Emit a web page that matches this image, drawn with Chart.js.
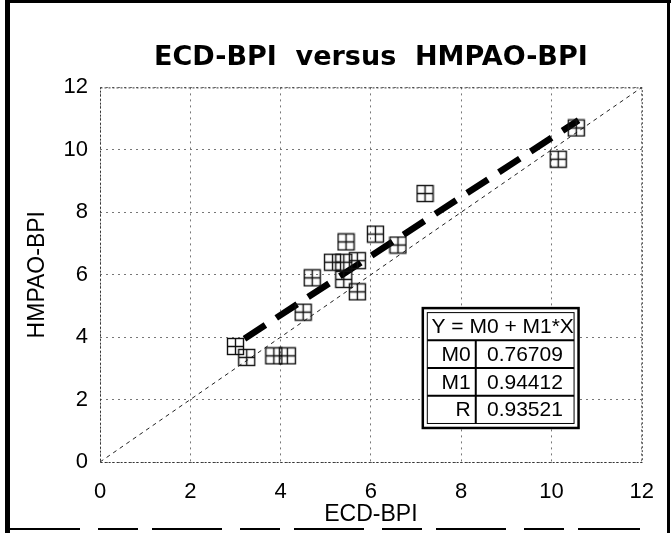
<!DOCTYPE html>
<html><head><meta charset="utf-8">
<script src="https://cdn.jsdelivr.net/npm/chart.js@4/dist/chart.umd.min.js"></script>
<style>html,body{margin:0;padding:0;background:#fff}canvas{display:block}</style>
</head><body>
<canvas id="c" width="671" height="533"></canvas>
<script>
// Data
const ecd   = [3.0, 3.25, 3.85, 4.15, 4.5, 4.7, 5.15, 5.4, 5.45, 5.4, 5.7, 5.7, 6.1, 6.6, 7.2, 10.15, 10.55];
const hmpao = [3.7, 3.35, 3.4, 3.4, 4.8, 5.9, 6.4, 6.4, 7.05, 5.85, 6.45, 5.45, 7.3, 6.95, 8.6, 9.7, 10.7];
const fitX = [3.2, 10.6];
const fitY = [3.95, 10.95];
const idX = [0, 12];
const idY = [0, 12];
const tickValues = [0, 2, 4, 6, 8, 10, 12];
const tableRows = [["M0", "0.76709"], ["M1", "0.94412"], ["R", "0.93521"]];
const tableHeader = "Y = M0 + M1*X";
const tableBox = {x0: 7.15, x1: 10.6, y0: 4.93, y1: 1.09};

const FONT = '"Liberation Sans", Arial, sans-serif';

// point icon: square split in four
const icon = document.createElement('canvas');
icon.width = 19; icon.height = 19;
(function(){
  const g = icon.getContext('2d');
  g.strokeStyle = '#111'; g.lineWidth = 1.4;
  g.strokeRect(1.5, 1.5, 16, 16);
  g.beginPath();
  g.moveTo(9.5, 1.5); g.lineTo(9.5, 17.5);
  g.moveTo(1.5, 9.5); g.lineTo(17.5, 9.5);
  g.stroke();
})();

const framePlugin = {
  id: 'frame',
  afterLayout(chart) {
    // centre the title over the plotting area
    const tb = chart.titleBlock;
    if (tb) { tb.left = chart.chartArea.left; tb.right = chart.chartArea.right; }
  },
  beforeDraw(chart) {
    const c = chart.ctx;
    c.save();
    c.fillStyle = '#fff';
    c.fillRect(0, 0, chart.width, chart.height);
    c.restore();
  },
  beforeDatasetsDraw(chart) {
    const c = chart.ctx, a = chart.chartArea;
    c.save();
    c.strokeStyle = '#333'; c.lineWidth = 1; c.setLineDash([2, 2]);
    c.strokeRect(a.left + 0.5, a.top + 0.5, a.right - a.left, a.bottom - a.top);
    c.restore();
  },
  afterDraw(chart) {
    const c = chart.ctx;
    const xs = chart.scales.x, ys = chart.scales.y;
    // outer frame of the scanned figure
    c.save();
    c.fillStyle = '#000';
    c.fillRect(5, 0, 5, 533);
    c.fillRect(5, 0, 666, 3);
    c.fillRect(667, 0, 3, 533);
    c.strokeStyle = '#000'; c.lineWidth = 2; c.setLineDash([70, 18, 40, 14]);
    c.beginPath(); c.moveTo(10, 529); c.lineTo(640, 529); c.stroke();
    c.restore();

    // fit table
    const L = xs.getPixelForValue(tableBox.x0), R = xs.getPixelForValue(tableBox.x1);
    const T = ys.getPixelForValue(tableBox.y0), B = ys.getPixelForValue(tableBox.y1);
    c.save();
    c.fillStyle = '#fff';
    c.fillRect(L, T, R - L, B - T);
    c.strokeStyle = '#000';
    c.lineWidth = 2.5; c.strokeRect(L, T, R - L, B - T);
    c.lineWidth = 1; c.strokeRect(L + 4.5, T + 4.5, R - L - 9, B - T - 9);
    const rowH = (B - T - 9) / 4;
    const colX = L + (R - L) * 0.34;
    c.lineWidth = 2;
    c.beginPath();
    for (let i = 1; i < 4; i++) {
      const yy = T + 4.5 + rowH * i;
      c.moveTo(L + 4.5, yy); c.lineTo(R - 4.5, yy);
    }
    c.moveTo(colX, T + 4.5 + rowH); c.lineTo(colX, B - 4.5);
    c.stroke();
    c.fillStyle = '#000';
    c.font = '21px ' + FONT;
    c.textBaseline = 'middle';
    c.textAlign = 'center';
    c.fillText(tableHeader, (L + R) / 2 + 2, T + 4.5 + rowH / 2 + 1);
    tableRows.forEach((r, i) => {
      const yy = T + 4.5 + rowH * (i + 1.5) + 1;
      c.textAlign = 'right';
      c.fillText(r[0], colX - 5, yy);
      c.textAlign = 'center';
      c.fillText(r[1], (colX + R - 4.5) / 2, yy);
    });
    c.restore();
  }
};

new Chart(document.getElementById('c'), {
  type: 'scatter',
  data: {
    datasets: [
      {
        label: 'identity',
        data: idX.map((x, i) => ({x, y: idY[i]})),
        showLine: true, pointRadius: 0, borderColor: '#222', borderWidth: 1,
        borderDash: [4, 4], fill: false, order: 3
      },
      {
        label: 'fit',
        data: fitX.map((x, i) => ({x, y: fitY[i]})),
        showLine: true, pointRadius: 0, borderColor: '#000', borderWidth: 6.5,
        borderDash: [25, 13], borderCapStyle: 'butt', fill: false, order: 2
      },
      {
        label: 'data',
        data: ecd.map((x, i) => ({x, y: hmpao[i]})),
        pointStyle: icon, pointRadius: 9, order: 1
      }
    ]
  },
  options: {
    responsive: false,
    animation: false,
    devicePixelRatio: 1,
    layout: {padding: {left: 20, right: 26, top: 0, bottom: 0}},
    plugins: {
      legend: {display: false},
      tooltip: {enabled: false},
      title: {
        display: true,
        text: 'ECD-BPI  versus  HMPAO-BPI',
        color: '#000',
        font: {family: '"DejaVu Sans", ' + FONT, size: 27, weight: 'bold'},
        padding: {top: 42, bottom: 13}
      }
    },
    scales: {
      x: {
        type: 'linear', min: 0, max: 12,
        afterBuildTicks: s => { s.ticks = tickValues.map(v => ({value: v})); },
        afterFit: s => { s.height = 71; },
        ticks: {color: '#000', font: {family: FONT, size: 22}, padding: 17},
        grid: {color: '#777', drawTicks: false, lineWidth: 1},
        border: {display: false, dash: [2, 4]},
        title: {display: true, text: 'ECD-BPI', color: '#000', font: {family: FONT, size: 23}, padding: {top: 0, bottom: 5}}
      },
      y: {
        type: 'linear', min: 0, max: 12,
        afterBuildTicks: s => { s.ticks = tickValues.map(v => ({value: v})); },
        afterFit: s => { s.width = 80; },
        ticks: {color: '#000', font: {family: FONT, size: 22}, padding: 12},
        grid: {color: '#777', drawTicks: false, lineWidth: 1},
        border: {display: false, dash: [2, 4]},
        title: {display: true, text: 'HMPAO-BPI', color: '#000', font: {family: FONT, size: 23}, padding: {top: 4, bottom: 4}}
      }
    }
  },
  plugins: [framePlugin]
});
</script>
</body></html>
